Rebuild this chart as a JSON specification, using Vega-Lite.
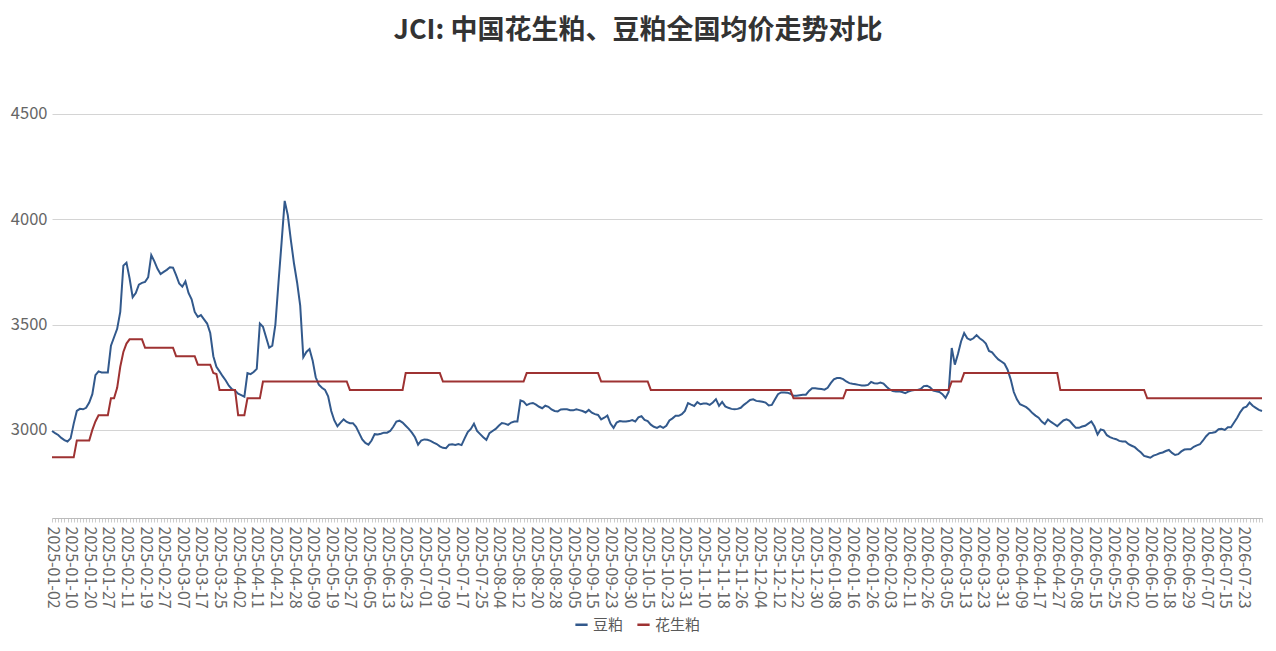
{
"$schema": "https://vega.github.io/schema/vega-lite/v6.json",
"width": 1210,
"height": 458,
"autosize": {"type": "none"},
"padding": {"left": 52, "top": 60, "right": 14, "bottom": 133},
"background": "white",
"config": {"font": "Noto Sans CJK SC", "view": {"stroke": null}},
"title": {"text": "JCI: 中国花生粕、豆粕全国均价走势对比", "fontSize": 27, "fontWeight": "bold", "color": "#333333", "anchor": "middle", "dx": -19, "offset": 15, "font": "Noto Sans CJK SC"},
"data": {"values": [
{"d":"2025-01-02","豆粕":2995,"花生粕":2870},
{"d":"2025-01-03","豆粕":2985,"花生粕":2870},
{"d":"2025-01-06","豆粕":2976,"花生粕":2870},
{"d":"2025-01-07","豆粕":2962,"花生粕":2870},
{"d":"2025-01-08","豆粕":2952,"花生粕":2870},
{"d":"2025-01-09","豆粕":2945,"花生粕":2870},
{"d":"2025-01-10","豆粕":2960,"花生粕":2870},
{"d":"2025-01-13","豆粕":3030,"花生粕":2870},
{"d":"2025-01-14","豆粕":3090,"花生粕":2950},
{"d":"2025-01-15","豆粕":3100,"花生粕":2950},
{"d":"2025-01-16","豆粕":3098,"花生粕":2950},
{"d":"2025-01-17","豆粕":3105,"花生粕":2950},
{"d":"2025-01-20","豆粕":3130,"花生粕":2950},
{"d":"2025-01-21","豆粕":3170,"花生粕":3000},
{"d":"2025-01-22","豆粕":3260,"花生粕":3040},
{"d":"2025-01-23","豆粕":3278,"花生粕":3070},
{"d":"2025-01-24","豆粕":3273,"花生粕":3070},
{"d":"2025-01-26","豆粕":3273,"花生粕":3070},
{"d":"2025-01-27","豆粕":3273,"花生粕":3070},
{"d":"2025-02-05","豆粕":3400,"花生粕":3150},
{"d":"2025-02-06","豆粕":3440,"花生粕":3150},
{"d":"2025-02-07","豆粕":3480,"花生粕":3200},
{"d":"2025-02-08","豆粕":3560,"花生粕":3300},
{"d":"2025-02-10","豆粕":3780,"花生粕":3370},
{"d":"2025-02-11","豆粕":3794,"花生粕":3410},
{"d":"2025-02-12","豆粕":3720,"花生粕":3430},
{"d":"2025-02-13","豆粕":3630,"花生粕":3430},
{"d":"2025-02-14","豆粕":3650,"花生粕":3430},
{"d":"2025-02-17","豆粕":3690,"花生粕":3430},
{"d":"2025-02-18","豆粕":3698,"花生粕":3430},
{"d":"2025-02-19","豆粕":3703,"花生粕":3390},
{"d":"2025-02-20","豆粕":3725,"花生粕":3390},
{"d":"2025-02-21","豆粕":3830,"花生粕":3390},
{"d":"2025-02-24","豆粕":3800,"花生粕":3390},
{"d":"2025-02-25","豆粕":3765,"花生粕":3390},
{"d":"2025-02-26","豆粕":3740,"花生粕":3390},
{"d":"2025-02-27","豆粕":3750,"花生粕":3390},
{"d":"2025-02-28","豆粕":3760,"花生粕":3390},
{"d":"2025-03-03","豆粕":3772,"花生粕":3390},
{"d":"2025-03-04","豆粕":3770,"花生粕":3390},
{"d":"2025-03-05","豆粕":3735,"花生粕":3350},
{"d":"2025-03-06","豆粕":3695,"花生粕":3350},
{"d":"2025-03-07","豆粕":3680,"花生粕":3350},
{"d":"2025-03-10","豆粕":3705,"花生粕":3350},
{"d":"2025-03-11","豆粕":3650,"花生粕":3350},
{"d":"2025-03-12","豆粕":3620,"花生粕":3350},
{"d":"2025-03-13","豆粕":3560,"花生粕":3350},
{"d":"2025-03-14","豆粕":3537,"花生粕":3310},
{"d":"2025-03-17","豆粕":3545,"花生粕":3310},
{"d":"2025-03-18","豆粕":3525,"花生粕":3310},
{"d":"2025-03-19","豆粕":3505,"花生粕":3310},
{"d":"2025-03-20","豆粕":3460,"花生粕":3310},
{"d":"2025-03-21","豆粕":3350,"花生粕":3270},
{"d":"2025-03-24","豆粕":3300,"花生粕":3265},
{"d":"2025-03-25","豆粕":3278,"花生粕":3190},
{"d":"2025-03-26","豆粕":3255,"花生粕":3190},
{"d":"2025-03-27","豆粕":3235,"花生粕":3190},
{"d":"2025-03-28","豆粕":3210,"花生粕":3190},
{"d":"2025-03-31","豆粕":3194,"花生粕":3190},
{"d":"2025-04-01","豆粕":3187,"花生粕":3190},
{"d":"2025-04-02","豆粕":3172,"花生粕":3070},
{"d":"2025-04-03","豆粕":3165,"花生粕":3070},
{"d":"2025-04-07","豆粕":3158,"花生粕":3070},
{"d":"2025-04-08","豆粕":3270,"花生粕":3150},
{"d":"2025-04-09","豆粕":3265,"花生粕":3150},
{"d":"2025-04-10","豆粕":3275,"花生粕":3150},
{"d":"2025-04-11","豆粕":3290,"花生粕":3150},
{"d":"2025-04-14","豆粕":3505,"花生粕":3150},
{"d":"2025-04-15","豆粕":3490,"花生粕":3230},
{"d":"2025-04-16","豆粕":3440,"花生粕":3230},
{"d":"2025-04-17","豆粕":3390,"花生粕":3230},
{"d":"2025-04-18","豆粕":3400,"花生粕":3230},
{"d":"2025-04-21","豆粕":3500,"花生粕":3230},
{"d":"2025-04-22","豆粕":3700,"花生粕":3230},
{"d":"2025-04-23","豆粕":3890,"花生粕":3230},
{"d":"2025-04-24","豆粕":4087,"花生粕":3230},
{"d":"2025-04-25","豆粕":4020,"花生粕":3230},
{"d":"2025-04-27","豆粕":3900,"花生粕":3230},
{"d":"2025-04-28","豆粕":3790,"花生粕":3230},
{"d":"2025-04-29","豆粕":3700,"花生粕":3230},
{"d":"2025-04-30","豆粕":3590,"花生粕":3230},
{"d":"2025-05-06","豆粕":3345,"花生粕":3230},
{"d":"2025-05-07","豆粕":3370,"花生粕":3230},
{"d":"2025-05-08","豆粕":3384,"花生粕":3230},
{"d":"2025-05-09","豆粕":3330,"花生粕":3230},
{"d":"2025-05-12","豆粕":3250,"花生粕":3230},
{"d":"2025-05-13","豆粕":3215,"花生粕":3230},
{"d":"2025-05-14","豆粕":3200,"花生粕":3230},
{"d":"2025-05-15","豆粕":3190,"花生粕":3230},
{"d":"2025-05-16","豆粕":3160,"花生粕":3230},
{"d":"2025-05-19","豆粕":3090,"花生粕":3230},
{"d":"2025-05-20","豆粕":3045,"花生粕":3230},
{"d":"2025-05-21","豆粕":3018,"花生粕":3230},
{"d":"2025-05-22","豆粕":3035,"花生粕":3230},
{"d":"2025-05-23","豆粕":3050,"花生粕":3230},
{"d":"2025-05-26","豆粕":3038,"花生粕":3230},
{"d":"2025-05-27","豆粕":3032,"花生粕":3190},
{"d":"2025-05-28","豆粕":3032,"花生粕":3190},
{"d":"2025-05-29","豆粕":3015,"花生粕":3190},
{"d":"2025-05-30","豆粕":2985,"花生粕":3190},
{"d":"2025-06-03","豆粕":2955,"花生粕":3190},
{"d":"2025-06-04","豆粕":2938,"花生粕":3190},
{"d":"2025-06-05","豆粕":2930,"花生粕":3190},
{"d":"2025-06-06","豆粕":2950,"花生粕":3190},
{"d":"2025-06-09","豆粕":2980,"花生粕":3190},
{"d":"2025-06-10","豆粕":2978,"花生粕":3190},
{"d":"2025-06-11","豆粕":2982,"花生粕":3190},
{"d":"2025-06-12","豆粕":2987,"花生粕":3190},
{"d":"2025-06-13","豆粕":2987,"花生粕":3190},
{"d":"2025-06-16","豆粕":2995,"花生粕":3190},
{"d":"2025-06-17","豆粕":3015,"花生粕":3190},
{"d":"2025-06-18","豆粕":3040,"花生粕":3190},
{"d":"2025-06-19","豆粕":3044,"花生粕":3190},
{"d":"2025-06-20","豆粕":3035,"花生粕":3190},
{"d":"2025-06-23","豆粕":3020,"花生粕":3270},
{"d":"2025-06-24","豆粕":3005,"花生粕":3270},
{"d":"2025-06-25","豆粕":2987,"花生粕":3270},
{"d":"2025-06-26","豆粕":2965,"花生粕":3270},
{"d":"2025-06-27","豆粕":2930,"花生粕":3270},
{"d":"2025-06-30","豆粕":2950,"花生粕":3270},
{"d":"2025-07-01","豆粕":2955,"花生粕":3270},
{"d":"2025-07-02","豆粕":2953,"花生粕":3270},
{"d":"2025-07-03","豆粕":2948,"花生粕":3270},
{"d":"2025-07-04","豆粕":2940,"花生粕":3270},
{"d":"2025-07-07","豆粕":2933,"花生粕":3270},
{"d":"2025-07-08","豆粕":2922,"花生粕":3270},
{"d":"2025-07-09","豆粕":2915,"花生粕":3230},
{"d":"2025-07-10","豆粕":2913,"花生粕":3230},
{"d":"2025-07-11","豆粕":2930,"花生粕":3230},
{"d":"2025-07-14","豆粕":2932,"花生粕":3230},
{"d":"2025-07-15","豆粕":2929,"花生粕":3230},
{"d":"2025-07-16","豆粕":2933,"花生粕":3230},
{"d":"2025-07-17","豆粕":2928,"花生粕":3230},
{"d":"2025-07-18","豆粕":2960,"花生粕":3230},
{"d":"2025-07-21","豆粕":2990,"花生粕":3230},
{"d":"2025-07-22","豆粕":3005,"花生粕":3230},
{"d":"2025-07-23","豆粕":3030,"花生粕":3230},
{"d":"2025-07-24","豆粕":2995,"花生粕":3230},
{"d":"2025-07-25","豆粕":2980,"花生粕":3230},
{"d":"2025-07-28","豆粕":2965,"花生粕":3230},
{"d":"2025-07-29","豆粕":2953,"花生粕":3230},
{"d":"2025-07-30","豆粕":2985,"花生粕":3230},
{"d":"2025-07-31","豆粕":2995,"花生粕":3230},
{"d":"2025-08-01","豆粕":3005,"花生粕":3230},
{"d":"2025-08-04","豆粕":3020,"花生粕":3230},
{"d":"2025-08-05","豆粕":3033,"花生粕":3230},
{"d":"2025-08-06","豆粕":3030,"花生粕":3230},
{"d":"2025-08-07","豆粕":3024,"花生粕":3230},
{"d":"2025-08-08","豆粕":3035,"花生粕":3230},
{"d":"2025-08-11","豆粕":3040,"花生粕":3230},
{"d":"2025-08-12","豆粕":3040,"花生粕":3230},
{"d":"2025-08-13","豆粕":3140,"花生粕":3230},
{"d":"2025-08-14","豆粕":3135,"花生粕":3230},
{"d":"2025-08-15","豆粕":3118,"花生粕":3270},
{"d":"2025-08-18","豆粕":3125,"花生粕":3270},
{"d":"2025-08-19","豆粕":3128,"花生粕":3270},
{"d":"2025-08-20","豆粕":3120,"花生粕":3270},
{"d":"2025-08-21","豆粕":3110,"花生粕":3270},
{"d":"2025-08-22","豆粕":3103,"花生粕":3270},
{"d":"2025-08-25","豆粕":3115,"花生粕":3270},
{"d":"2025-08-26","豆粕":3110,"花生粕":3270},
{"d":"2025-08-27","豆粕":3097,"花生粕":3270},
{"d":"2025-08-28","豆粕":3090,"花生粕":3270},
{"d":"2025-08-29","豆粕":3088,"花生粕":3270},
{"d":"2025-09-01","豆粕":3097,"花生粕":3270},
{"d":"2025-09-02","豆粕":3098,"花生粕":3270},
{"d":"2025-09-03","豆粕":3098,"花生粕":3270},
{"d":"2025-09-04","豆粕":3094,"花生粕":3270},
{"d":"2025-09-05","豆粕":3093,"花生粕":3270},
{"d":"2025-09-08","豆粕":3098,"花生粕":3270},
{"d":"2025-09-09","豆粕":3094,"花生粕":3270},
{"d":"2025-09-10","豆粕":3090,"花生粕":3270},
{"d":"2025-09-11","豆粕":3083,"花生粕":3270},
{"d":"2025-09-12","豆粕":3095,"花生粕":3270},
{"d":"2025-09-15","豆粕":3082,"花生粕":3270},
{"d":"2025-09-16","豆粕":3075,"花生粕":3270},
{"d":"2025-09-17","豆粕":3071,"花生粕":3270},
{"d":"2025-09-18","豆粕":3050,"花生粕":3230},
{"d":"2025-09-19","豆粕":3058,"花生粕":3230},
{"d":"2025-09-22","豆粕":3068,"花生粕":3230},
{"d":"2025-09-23","豆粕":3030,"花生粕":3230},
{"d":"2025-09-24","豆粕":3010,"花生粕":3230},
{"d":"2025-09-25","豆粕":3035,"花生粕":3230},
{"d":"2025-09-26","豆粕":3042,"花生粕":3230},
{"d":"2025-09-28","豆粕":3040,"花生粕":3230},
{"d":"2025-09-29","豆粕":3040,"花生粕":3230},
{"d":"2025-09-30","豆粕":3042,"花生粕":3230},
{"d":"2025-10-09","豆粕":3047,"花生粕":3230},
{"d":"2025-10-10","豆粕":3040,"花生粕":3230},
{"d":"2025-10-11","豆粕":3060,"花生粕":3230},
{"d":"2025-10-13","豆粕":3065,"花生粕":3230},
{"d":"2025-10-14","豆粕":3048,"花生粕":3230},
{"d":"2025-10-15","豆粕":3042,"花生粕":3230},
{"d":"2025-10-16","豆粕":3025,"花生粕":3190},
{"d":"2025-10-17","豆粕":3015,"花生粕":3190},
{"d":"2025-10-20","豆粕":3010,"花生粕":3190},
{"d":"2025-10-21","豆粕":3018,"花生粕":3190},
{"d":"2025-10-22","豆粕":3010,"花生粕":3190},
{"d":"2025-10-23","豆粕":3020,"花生粕":3190},
{"d":"2025-10-24","豆粕":3045,"花生粕":3190},
{"d":"2025-10-27","豆粕":3055,"花生粕":3190},
{"d":"2025-10-28","豆粕":3067,"花生粕":3190},
{"d":"2025-10-29","豆粕":3067,"花生粕":3190},
{"d":"2025-10-30","豆粕":3075,"花生粕":3190},
{"d":"2025-10-31","豆粕":3090,"花生粕":3190},
{"d":"2025-11-03","豆粕":3127,"花生粕":3190},
{"d":"2025-11-04","豆粕":3120,"花生粕":3190},
{"d":"2025-11-05","豆粕":3114,"花生粕":3190},
{"d":"2025-11-06","豆粕":3132,"花生粕":3190},
{"d":"2025-11-07","豆粕":3122,"花生粕":3190},
{"d":"2025-11-10","豆粕":3125,"花生粕":3190},
{"d":"2025-11-11","豆粕":3125,"花生粕":3190},
{"d":"2025-11-12","豆粕":3119,"花生粕":3190},
{"d":"2025-11-13","豆粕":3130,"花生粕":3190},
{"d":"2025-11-14","豆粕":3146,"花生粕":3190},
{"d":"2025-11-17","豆粕":3114,"花生粕":3190},
{"d":"2025-11-18","豆粕":3133,"花生粕":3190},
{"d":"2025-11-19","豆粕":3112,"花生粕":3190},
{"d":"2025-11-20","豆粕":3105,"花生粕":3190},
{"d":"2025-11-21","豆粕":3100,"花生粕":3190},
{"d":"2025-11-24","豆粕":3098,"花生粕":3190},
{"d":"2025-11-25","豆粕":3100,"花生粕":3190},
{"d":"2025-11-26","豆粕":3105,"花生粕":3190},
{"d":"2025-11-27","豆粕":3119,"花生粕":3190},
{"d":"2025-11-28","豆粕":3130,"花生粕":3190},
{"d":"2025-12-01","豆粕":3142,"花生粕":3190},
{"d":"2025-12-02","豆粕":3145,"花生粕":3190},
{"d":"2025-12-03","豆粕":3138,"花生粕":3190},
{"d":"2025-12-04","豆粕":3136,"花生粕":3190},
{"d":"2025-12-05","豆粕":3134,"花生粕":3190},
{"d":"2025-12-08","豆粕":3130,"花生粕":3190},
{"d":"2025-12-09","豆粕":3116,"花生粕":3190},
{"d":"2025-12-10","豆粕":3119,"花生粕":3190},
{"d":"2025-12-11","豆粕":3145,"花生粕":3190},
{"d":"2025-12-12","豆粕":3170,"花生粕":3190},
{"d":"2025-12-15","豆粕":3178,"花生粕":3190},
{"d":"2025-12-16","豆粕":3178,"花生粕":3190},
{"d":"2025-12-17","豆粕":3177,"花生粕":3190},
{"d":"2025-12-18","豆粕":3172,"花生粕":3190},
{"d":"2025-12-19","豆粕":3162,"花生粕":3150},
{"d":"2025-12-22","豆粕":3162,"花生粕":3150},
{"d":"2025-12-23","豆粕":3165,"花生粕":3150},
{"d":"2025-12-24","豆粕":3167,"花生粕":3150},
{"d":"2025-12-25","豆粕":3167,"花生粕":3150},
{"d":"2025-12-26","豆粕":3185,"花生粕":3150},
{"d":"2025-12-29","豆粕":3198,"花生粕":3150},
{"d":"2025-12-30","豆粕":3198,"花生粕":3150},
{"d":"2025-12-31","豆粕":3196,"花生粕":3150},
{"d":"2026-01-04","豆粕":3194,"花生粕":3150},
{"d":"2026-01-05","豆粕":3191,"花生粕":3150},
{"d":"2026-01-06","豆粕":3200,"花生粕":3150},
{"d":"2026-01-07","豆粕":3222,"花生粕":3150},
{"d":"2026-01-08","豆粕":3240,"花生粕":3150},
{"d":"2026-01-09","豆粕":3246,"花生粕":3150},
{"d":"2026-01-12","豆粕":3246,"花生粕":3150},
{"d":"2026-01-13","豆粕":3241,"花生粕":3150},
{"d":"2026-01-14","豆粕":3230,"花生粕":3190},
{"d":"2026-01-15","豆粕":3222,"花生粕":3190},
{"d":"2026-01-16","豆粕":3219,"花生粕":3190},
{"d":"2026-01-19","豆粕":3217,"花生粕":3190},
{"d":"2026-01-20","豆粕":3214,"花生粕":3190},
{"d":"2026-01-21","豆粕":3211,"花生粕":3190},
{"d":"2026-01-22","豆粕":3211,"花生粕":3190},
{"d":"2026-01-23","豆粕":3214,"花生粕":3190},
{"d":"2026-01-26","豆粕":3228,"花生粕":3190},
{"d":"2026-01-27","豆粕":3222,"花生粕":3190},
{"d":"2026-01-28","豆粕":3220,"花生粕":3190},
{"d":"2026-01-29","豆粕":3225,"花生粕":3190},
{"d":"2026-01-30","豆粕":3220,"花生粕":3190},
{"d":"2026-02-02","豆粕":3205,"花生粕":3190},
{"d":"2026-02-03","豆粕":3192,"花生粕":3190},
{"d":"2026-02-04","豆粕":3185,"花生粕":3190},
{"d":"2026-02-05","豆粕":3183,"花生粕":3190},
{"d":"2026-02-06","豆粕":3183,"花生粕":3190},
{"d":"2026-02-09","豆粕":3180,"花生粕":3190},
{"d":"2026-02-10","豆粕":3175,"花生粕":3190},
{"d":"2026-02-11","豆粕":3182,"花生粕":3190},
{"d":"2026-02-12","豆粕":3187,"花生粕":3190},
{"d":"2026-02-13","豆粕":3190,"花生粕":3190},
{"d":"2026-02-14","豆粕":3190,"花生粕":3190},
{"d":"2026-02-24","豆粕":3194,"花生粕":3190},
{"d":"2026-02-25","豆粕":3208,"花生粕":3190},
{"d":"2026-02-26","豆粕":3210,"花生粕":3190},
{"d":"2026-02-27","豆粕":3202,"花生粕":3190},
{"d":"2026-02-28","豆粕":3187,"花生粕":3190},
{"d":"2026-03-02","豆粕":3184,"花生粕":3190},
{"d":"2026-03-03","豆粕":3180,"花生粕":3190},
{"d":"2026-03-04","豆粕":3170,"花生粕":3190},
{"d":"2026-03-05","豆粕":3152,"花生粕":3190},
{"d":"2026-03-06","豆粕":3180,"花生粕":3190},
{"d":"2026-03-09","豆粕":3389,"花生粕":3230},
{"d":"2026-03-10","豆粕":3310,"花生粕":3230},
{"d":"2026-03-11","豆粕":3360,"花生粕":3230},
{"d":"2026-03-12","豆粕":3420,"花生粕":3230},
{"d":"2026-03-13","豆粕":3460,"花生粕":3270},
{"d":"2026-03-16","豆粕":3435,"花生粕":3270},
{"d":"2026-03-17","豆粕":3427,"花生粕":3270},
{"d":"2026-03-18","豆粕":3435,"花生粕":3270},
{"d":"2026-03-19","豆粕":3450,"花生粕":3270},
{"d":"2026-03-20","豆粕":3435,"花生粕":3270},
{"d":"2026-03-23","豆粕":3425,"花生粕":3270},
{"d":"2026-03-24","豆粕":3410,"花生粕":3270},
{"d":"2026-03-25","豆粕":3375,"花生粕":3270},
{"d":"2026-03-26","豆粕":3368,"花生粕":3270},
{"d":"2026-03-27","豆粕":3350,"花生粕":3270},
{"d":"2026-03-30","豆粕":3335,"花生粕":3270},
{"d":"2026-03-31","豆粕":3325,"花生粕":3270},
{"d":"2026-04-01","豆粕":3314,"花生粕":3270},
{"d":"2026-04-02","豆粕":3286,"花生粕":3270},
{"d":"2026-04-03","豆粕":3240,"花生粕":3270},
{"d":"2026-04-07","豆粕":3180,"花生粕":3270},
{"d":"2026-04-08","豆粕":3145,"花生粕":3270},
{"d":"2026-04-09","豆粕":3122,"花生粕":3270},
{"d":"2026-04-10","豆粕":3115,"花生粕":3270},
{"d":"2026-04-13","豆粕":3108,"花生粕":3270},
{"d":"2026-04-14","豆粕":3096,"花生粕":3270},
{"d":"2026-04-15","豆粕":3080,"花生粕":3270},
{"d":"2026-04-16","豆粕":3068,"花生粕":3270},
{"d":"2026-04-17","豆粕":3058,"花生粕":3270},
{"d":"2026-04-20","豆粕":3040,"花生粕":3270},
{"d":"2026-04-21","豆粕":3028,"花生粕":3270},
{"d":"2026-04-22","豆粕":3050,"花生粕":3270},
{"d":"2026-04-23","豆粕":3038,"花生粕":3270},
{"d":"2026-04-24","豆粕":3028,"花生粕":3270},
{"d":"2026-04-27","豆粕":3018,"花生粕":3270},
{"d":"2026-04-28","豆粕":3032,"花生粕":3190},
{"d":"2026-04-29","豆粕":3045,"花生粕":3190},
{"d":"2026-04-30","豆粕":3050,"花生粕":3190},
{"d":"2026-05-06","豆粕":3043,"花生粕":3190},
{"d":"2026-05-07","豆粕":3026,"花生粕":3190},
{"d":"2026-05-08","豆粕":3010,"花生粕":3190},
{"d":"2026-05-09","豆粕":3010,"花生粕":3190},
{"d":"2026-05-11","豆粕":3016,"花生粕":3190},
{"d":"2026-05-12","豆粕":3020,"花生粕":3190},
{"d":"2026-05-13","豆粕":3030,"花生粕":3190},
{"d":"2026-05-14","豆粕":3040,"花生粕":3190},
{"d":"2026-05-15","豆粕":3016,"花生粕":3190},
{"d":"2026-05-18","豆粕":2978,"花生粕":3190},
{"d":"2026-05-19","豆粕":3002,"花生粕":3190},
{"d":"2026-05-20","豆粕":2998,"花生粕":3190},
{"d":"2026-05-21","豆粕":2975,"花生粕":3190},
{"d":"2026-05-22","豆粕":2966,"花生粕":3190},
{"d":"2026-05-25","豆粕":2960,"花生粕":3190},
{"d":"2026-05-26","豆粕":2956,"花生粕":3190},
{"d":"2026-05-27","豆粕":2948,"花生粕":3190},
{"d":"2026-05-28","豆粕":2945,"花生粕":3190},
{"d":"2026-05-29","豆粕":2945,"花生粕":3190},
{"d":"2026-06-01","豆粕":2932,"花生粕":3190},
{"d":"2026-06-02","豆粕":2925,"花生粕":3190},
{"d":"2026-06-03","豆粕":2918,"花生粕":3190},
{"d":"2026-06-04","豆粕":2905,"花生粕":3190},
{"d":"2026-06-05","豆粕":2893,"花生粕":3190},
{"d":"2026-06-08","豆粕":2877,"花生粕":3190},
{"d":"2026-06-09","豆粕":2873,"花生粕":3150},
{"d":"2026-06-10","豆粕":2868,"花生粕":3150},
{"d":"2026-06-11","豆粕":2878,"花生粕":3150},
{"d":"2026-06-12","豆粕":2883,"花生粕":3150},
{"d":"2026-06-15","豆粕":2889,"花生粕":3150},
{"d":"2026-06-16","豆粕":2893,"花生粕":3150},
{"d":"2026-06-17","豆粕":2900,"花生粕":3150},
{"d":"2026-06-18","豆粕":2905,"花生粕":3150},
{"d":"2026-06-22","豆粕":2891,"花生粕":3150},
{"d":"2026-06-23","豆粕":2881,"花生粕":3150},
{"d":"2026-06-24","豆粕":2885,"花生粕":3150},
{"d":"2026-06-25","豆粕":2898,"花生粕":3150},
{"d":"2026-06-26","豆粕":2907,"花生粕":3150},
{"d":"2026-06-29","豆粕":2908,"花生粕":3150},
{"d":"2026-06-30","豆粕":2908,"花生粕":3150},
{"d":"2026-07-01","豆粕":2920,"花生粕":3150},
{"d":"2026-07-02","豆粕":2927,"花生粕":3150},
{"d":"2026-07-03","豆粕":2932,"花生粕":3150},
{"d":"2026-07-06","豆粕":2950,"花生粕":3150},
{"d":"2026-07-07","豆粕":2970,"花生粕":3150},
{"d":"2026-07-08","豆粕":2985,"花生粕":3150},
{"d":"2026-07-09","豆粕":2987,"花生粕":3150},
{"d":"2026-07-10","豆粕":2990,"花生粕":3150},
{"d":"2026-07-13","豆粕":3003,"花生粕":3150},
{"d":"2026-07-14","豆粕":3005,"花生粕":3150},
{"d":"2026-07-15","豆粕":3000,"花生粕":3150},
{"d":"2026-07-16","豆粕":3013,"花生粕":3150},
{"d":"2026-07-17","豆粕":3013,"花生粕":3150},
{"d":"2026-07-20","豆粕":3035,"花生粕":3150},
{"d":"2026-07-21","豆粕":3058,"花生粕":3150},
{"d":"2026-07-22","豆粕":3085,"花生粕":3150},
{"d":"2026-07-23","豆粕":3105,"花生粕":3150},
{"d":"2026-07-24","豆粕":3111,"花生粕":3150},
{"d":"2026-07-27","豆粕":3130,"花生粕":3150},
{"d":"2026-07-28","豆粕":3115,"花生粕":3150},
{"d":"2026-07-29","豆粕":3105,"花生粕":3150},
{"d":"2026-07-30","豆粕":3095,"花生粕":3150},
{"d":"2026-07-31","豆粕":3090,"花生粕":3150}
]},
"transform": [{"fold": ["豆粕", "花生粕"], "as": ["series", "price"]}],
"mark": {"type": "line", "strokeWidth": 2, "interpolate": "linear"},
"encoding": {
"x": {"field": "d", "type": "ordinal", "sort": null, "scale": {"type": "point", "padding": 0},
 "axis": {"title": null, "labelAngle": 90, "labelFontSize": 16, "labelColor": "#666666", "labelOverlap": false, "labelPadding": 4, "domainColor": "#bbbbbb", "tickColor": "#cccccc", "tickSize": 4, "grid": false,
 "labelExpr": "indexof(['2025-01-02','2025-01-10','2025-01-20','2025-01-27','2025-02-11','2025-02-19','2025-02-27','2025-03-07','2025-03-17','2025-03-25','2025-04-02','2025-04-11','2025-04-21','2025-04-28','2025-05-09','2025-05-19','2025-05-27','2025-06-05','2025-06-13','2025-06-23','2025-07-01','2025-07-09','2025-07-17','2025-07-25','2025-08-04','2025-08-12','2025-08-20','2025-08-28','2025-09-05','2025-09-15','2025-09-23','2025-09-30','2025-10-15','2025-10-23','2025-10-31','2025-11-10','2025-11-18','2025-11-26','2025-12-04','2025-12-12','2025-12-22','2025-12-30','2026-01-08','2026-01-16','2026-01-26','2026-02-03','2026-02-11','2026-02-26','2026-03-05','2026-03-13','2026-03-23','2026-03-31','2026-04-09','2026-04-17','2026-04-27','2026-05-08','2026-05-15','2026-05-25','2026-06-02','2026-06-10','2026-06-18','2026-06-29','2026-07-07','2026-07-15','2026-07-23'], datum.value) >= 0 ? datum.value : ''"}},
"y": {"field": "price", "type": "quantitative", "scale": {"domain": [2582, 4756], "nice": false, "zero": false},
 "axis": {"title": null, "values": [3000, 3500, 4000, 4500], "format": "d", "labelFontSize": 16.5, "labelColor": "#666666", "domain": false, "ticks": false, "labelPadding": 5, "gridColor": "#d4d4d4", "gridWidth": 1}},
"color": {"field": "series", "type": "nominal", "scale": {"domain": ["豆粕", "花生粕"], "range": ["#32598c", "#9e3232"]},
 "legend": {"orient": "none", "legendX": 522, "legendY": 557, "direction": "horizontal", "title": null, "symbolType": "stroke", "symbolStrokeWidth": 2.5, "symbolSize": 150, "labelFontSize": 15, "labelColor": "#595959", "columnPadding": 8}}
}
}
